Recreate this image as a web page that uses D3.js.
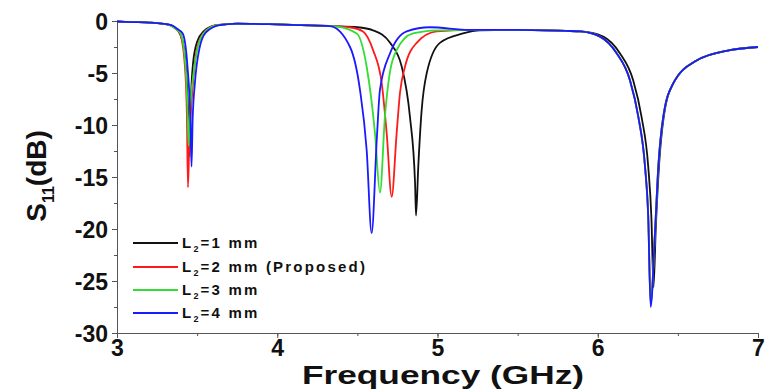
<!DOCTYPE html>
<html><head><meta charset="utf-8">
<script src="https://cdn.jsdelivr.net/npm/d3@7"></script>
<style>body{margin:0;background:#fff}svg{display:block}</style>
</head><body>
<script>
// ---- data ----
const xTicks = [3, 4, 5, 6, 7];
const yTicks = [0, -5, -10, -15, -20, -25, -30];
const legendLabels = ["=1 mm", "=2 mm (Proposed)", "=3 mm", "=4 mm"];
const seriesColors = ["#111111", "#ff1a1a", "#33dd33", "#1a1aff"];

const freqL1 = [3.00,3.10,3.20,3.28,3.34,3.38,3.41,3.43,3.445,3.452,3.46,3.475,3.50,3.54,3.62,3.75,3.95,4.15,4.35,4.50,4.598,4.704,4.777,4.828,4.860,4.866,4.880,4.901,4.933,5.015,5.159,5.265,5.50,5.80,5.90,6.034,6.138,6.221,6.273,6.315,6.335,6.348,6.362,6.382,6.412,6.471,6.617,6.825,7.00];
const s11L1  = [-0.05,-0.10,-0.15,-0.25,-0.45,-0.9,-2.0,-4.5,-9.0,-13.0,-8.0,-4.0,-2.0,-1.0,-0.4,-0.25,-0.3,-0.4,-0.5,-0.6,-0.9,-2.1,-4.4,-9.2,-15.6,-18.7,-14.0,-8.6,-5.0,-2.1,-1.2,-0.9,-0.85,-0.95,-1.0,-1.5,-3.1,-5.7,-9.2,-14.0,-19.0,-25.6,-20.0,-14.0,-9.2,-6.0,-3.8,-2.8,-2.5];

const freqL2 = [3.00,3.10,3.20,3.28,3.33,3.37,3.393,3.424,3.436,3.443,3.452,3.466,3.497,3.537,3.622,3.75,3.95,4.15,4.35,4.45,4.535,4.598,4.652,4.683,4.714,4.745,4.766,4.797,4.870,4.995,5.20,5.50,5.80,5.89,6.014,6.118,6.201,6.253,6.295,6.315,6.330,6.357,6.378,6.409,6.471,6.617,6.825,7.00];
const s11L2  = [-0.05,-0.10,-0.15,-0.25,-0.4,-0.8,-1.2,-4.4,-9.0,-16.0,-11.0,-7.6,-2.8,-1.2,-0.4,-0.25,-0.3,-0.4,-0.5,-0.6,-1.0,-2.8,-6.0,-10.8,-16.9,-10.8,-6.9,-4.4,-2.1,-1.0,-0.85,-0.85,-0.95,-1.0,-1.5,-3.1,-5.7,-9.2,-14.0,-18.8,-27.0,-20.4,-14.0,-9.2,-6.0,-3.8,-2.8,-2.5];

const freqL3 = [3.00,3.10,3.20,3.28,3.33,3.37,3.397,3.428,3.440,3.447,3.456,3.470,3.500,3.540,3.625,3.75,3.95,4.15,4.35,4.496,4.558,4.610,4.641,4.672,4.693,4.745,4.847,5.00,5.20,5.50,5.80,5.89,6.014,6.118,6.201,6.253,6.295,6.315,6.330,6.357,6.378,6.409,6.471,6.617,6.825,7.00];
const s11L3  = [-0.05,-0.10,-0.15,-0.25,-0.4,-0.8,-1.2,-4.4,-8.5,-12.0,-8.5,-6.0,-2.8,-1.2,-0.4,-0.25,-0.3,-0.4,-0.5,-1.2,-4.4,-10.8,-16.5,-9.2,-6.0,-2.8,-1.2,-0.9,-0.85,-0.85,-0.95,-1.0,-1.5,-3.1,-5.7,-9.2,-14.0,-18.8,-27.2,-20.4,-14.0,-9.2,-6.0,-3.8,-2.8,-2.5];

const freqL4 = [3.00,3.10,3.20,3.28,3.34,3.38,3.41,3.44,3.458,3.465,3.472,3.486,3.515,3.555,3.64,3.75,3.95,4.15,4.329,4.454,4.516,4.558,4.589,4.621,4.641,4.704,4.808,4.953,5.20,5.50,5.80,5.89,6.014,6.118,6.201,6.253,6.295,6.315,6.330,6.357,6.378,6.409,6.471,6.617,6.825,7.00];
const s11L4  = [-0.05,-0.10,-0.15,-0.25,-0.4,-0.8,-1.2,-4.4,-9.5,-14.0,-9.5,-6.0,-2.6,-1.1,-0.4,-0.25,-0.3,-0.4,-0.5,-2.5,-6.6,-12.4,-20.4,-11.4,-6.6,-3.1,-1.0,-0.6,-0.85,-0.85,-0.95,-1.0,-1.5,-3.1,-5.7,-9.2,-14.0,-18.8,-27.5,-20.4,-14.0,-9.2,-6.0,-3.8,-2.8,-2.5];

const seriesFreq = [freqL1, freqL2, freqL3, freqL4];
const seriesS11 = [s11L1, s11L2, s11L3, s11L4];

// ---- drawing ----
const W = 765, H = 392;
const svg = d3.select("body").append("svg").attr("width", W).attr("height", H);
const x = d3.scaleLinear().domain([3, 7]).range([117, 758]);
const y = d3.scaleLinear().domain([-30, 0]).range([333, 21]);
const font = "'Liberation Sans', Arial, sans-serif";

// minor ticks
const gx = svg.append("g").attr("transform", "translate(0,333)")
  .call(d3.axisBottom(x).tickValues(d3.range(3, 7.01, 0.5)).tickSize(3).tickFormat(""));
const gy = svg.append("g").attr("transform", "translate(117,0)")
  .call(d3.axisLeft(y).tickValues(d3.range(-30, 0.01, 2.5)).tickSize(3).tickFormat(""));
// major ticks
const gx2 = svg.append("g").attr("transform", "translate(0,333)")
  .call(d3.axisBottom(x).tickValues(xTicks).tickSize(5).tickPadding(1).tickFormat(d => String(d)));
const gy2 = svg.append("g").attr("transform", "translate(117,0)")
  .call(d3.axisLeft(y).tickValues(yTicks).tickSize(5).tickPadding(4).tickFormat(d => String(d)));
[gx, gy, gx2, gy2].forEach(g => {
  g.selectAll("path,line").attr("stroke", "#555").attr("stroke-width", 1);
  g.selectAll("text").attr("font-family", font).attr("font-weight", "bold")
    .attr("font-size", 23).attr("fill", "#111");
});
gx2.selectAll("text").attr("dy", "0.72em");
gy2.selectAll("text").attr("dy", "0.36em");

// curves
const line = d3.line().x(d => x(d[0])).y(d => y(d[1])).curve(d3.curveMonotoneX);
seriesFreq.forEach((fr, i) => {
  const pts = fr.map((f, j) => [f, seriesS11[i][j]]);
  svg.append("path").attr("d", line(pts)).attr("fill", "none")
    .attr("stroke", seriesColors[i]).attr("stroke-width", 1.8).attr("stroke-linejoin", "round");
});

// axis titles
svg.append("text").attr("x", 443).attr("y", 384).attr("text-anchor", "middle")
  .attr("font-family", font).attr("font-weight", "bold").attr("font-size", 25).attr("fill", "#111")
  .attr("textLength", 282).attr("lengthAdjust", "spacingAndGlyphs")
  .text("Frequency (GHz)");
const yl = svg.append("text").attr("transform", "translate(46,176) rotate(-90)")
  .attr("text-anchor", "middle").attr("font-family", font).attr("font-weight", "bold")
  .attr("font-size", 28).attr("fill", "#111");
yl.append("tspan").text("S");
yl.append("tspan").attr("font-size", 16).attr("dy", 8).text("11");
yl.append("tspan").attr("dy", -8).text("(dB)");

// legend
const legY = [243, 267, 290, 313];
legendLabels.forEach((lab, i) => {
  svg.append("line").attr("x1", 133).attr("x2", 178).attr("y1", legY[i]).attr("y2", legY[i])
    .attr("stroke", seriesColors[i]).attr("stroke-width", 1.8);
  const t = svg.append("text").attr("x", 182).attr("y", legY[i] + 5)
    .attr("font-family", font).attr("font-weight", "bold").attr("font-size", 15)
    .attr("letter-spacing", 2.2).attr("fill", "#111");
  t.append("tspan").text("L");
  t.append("tspan").attr("font-size", 9).attr("dy", 4).text("2");
  t.append("tspan").attr("dy", -4).text(lab);
});
</script>
</body></html>
